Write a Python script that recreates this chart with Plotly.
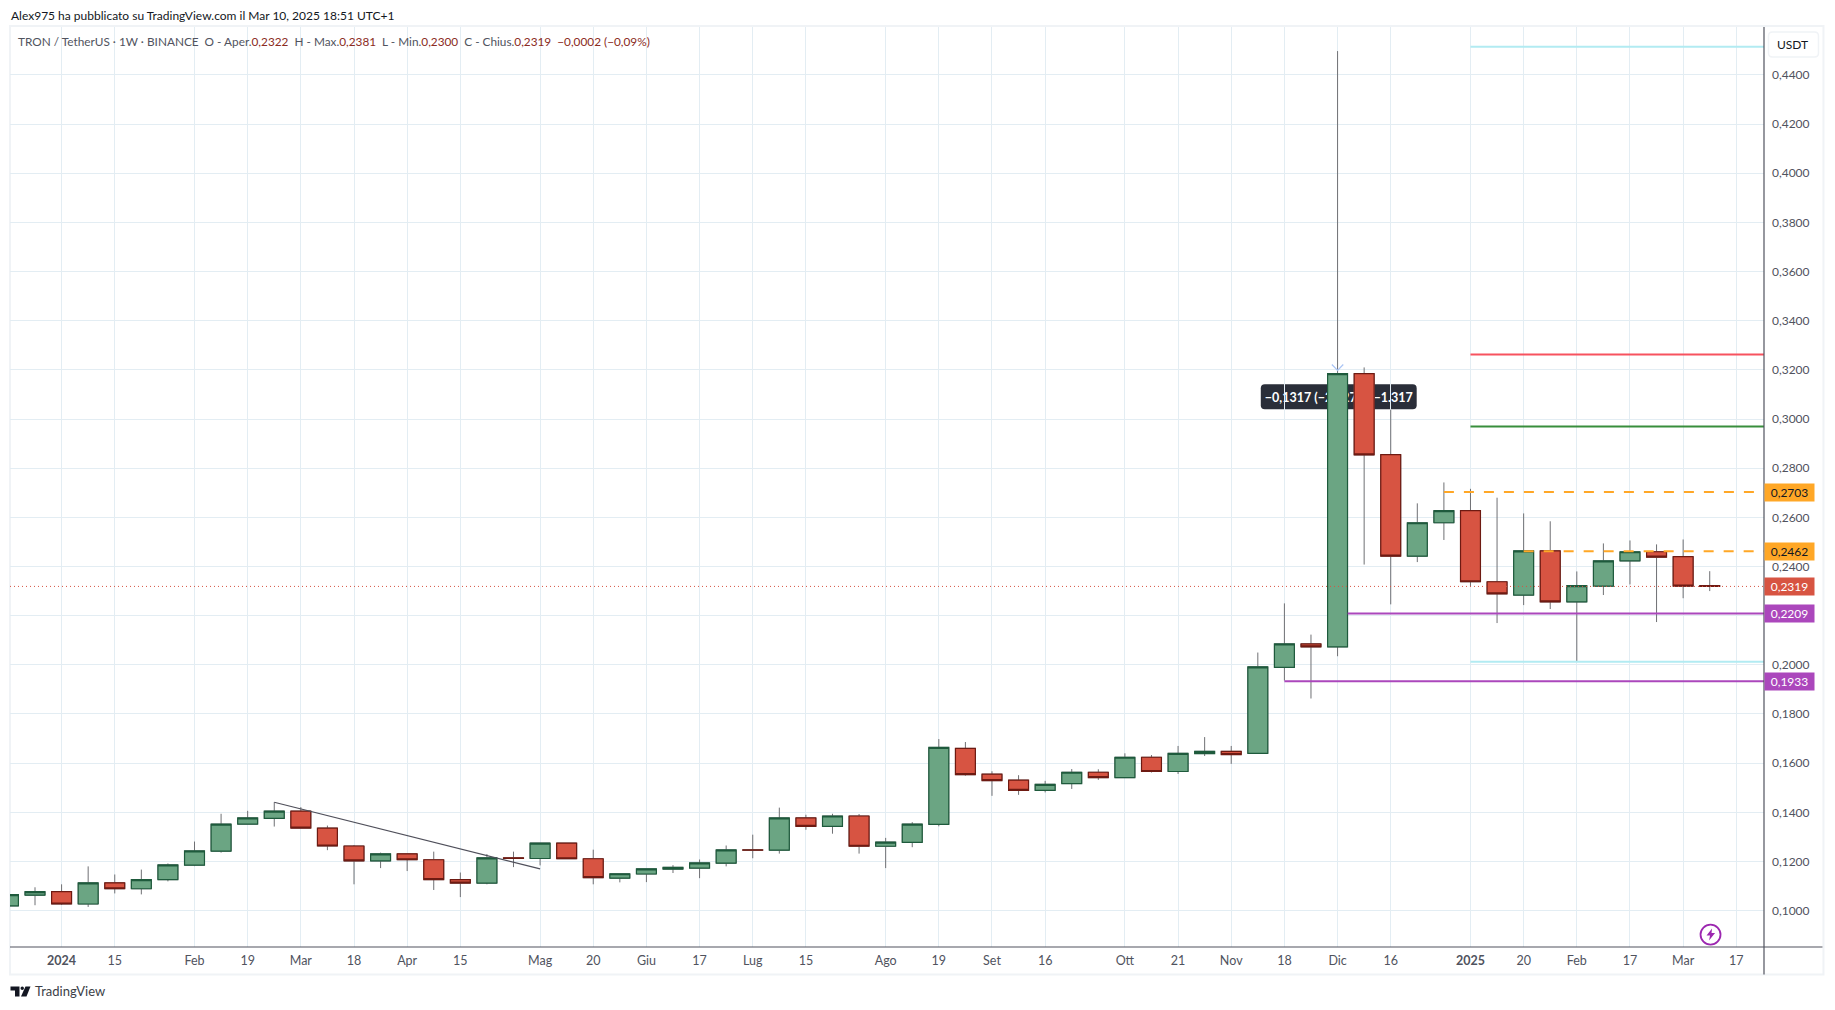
import pandas as pd
import plotly.graph_objects as go

# ---------- data ----------
week_start = "2023-12-18"
opens = [.1019,.1063,.1077,.1027,.1113,.1089,.1126,.1185,.1242,.1352,.1375,.1405,.1336,.1263,.1202,.1231,.1207,.1126,.1112,.1215,.1212,.1275,.1211,
         .1132,.1149,.1169,.1173,.1193,.1247,.1246,.1377,.1343,.1385,.1262,.1278,.1351,.1660,.1555,.1531,.1489,.1517,.1563,.1541,.1624,.1566,.1639,.1648]
opens_b = [.1640,.1990,.2085,.2073,.3185,.2855,.2442,.2578,.2627,.2338,.2284,.2464,.2256,.2320,.2423,.2460,.2440,.2322]
highs = [.1065,.1095,.1107,.1180,.1147,.1167,.1192,.1281,.1394,.1406,.1441,.1421,.1346,.1267,.1236,.1231,.1240,.1155,.1230,.1240,.1275,.1275,.1248,
         .1150,.1170,.1185,.1208,.1265,.1309,.1419,.1390,.1394,.1393,.1296,.1360,.1698,.1686,.1567,.1551,.1528,.1576,.1575,.1640,.1633,.1670,.1706,.1670]
highs_b = [.2050,.2250,.2123,.4497,.3210,.3038,.2657,.2742,.2716,.2680,.2616,.2584,.2380,.2494,.2506,.2490,.2510,.2381]
lows = [.1019,.1022,.1023,.1015,.1070,.1066,.1119,.1181,.1236,.1352,.1342,.1336,.1246,.1107,.1173,.1161,.1084,.1055,.1107,.1177,.1184,.1211,.1107,
        .1115,.1116,.1153,.1132,.1180,.1213,.1232,.1329,.1313,.1232,.1173,.1258,.1343,.1549,.1467,.1471,.1481,.1495,.1532,.1541,.1562,.1556,.1629,.1597]
lows_b = [.1640,.1936,.1863,.2035,.2408,.2246,.2418,.2508,.2318,.2170,.2243,.2227,.2015,.2284,.2327,.2174,.2271,.2300]
closes = [.1065,.1077,.1027,.1113,.1089,.1126,.1186,.1243,.1352,.1377,.1405,.1336,.1263,.1202,.1231,.1207,.1126,.1112,.1215,.1212,.1275,.1211,.1134,
          .1150,.1170,.1176,.1194,.1247,.1246,.1377,.1343,.1385,.1262,.1279,.1352,.1664,.1553,.1529,.1489,.1514,.1563,.1541,.1624,.1566,.1640,.1648,.1635]
closes_b = [.1992,.2085,.2073,.3185,.2854,.2442,.2578,.2627,.2338,.2289,.2464,.2256,.2322,.2423,.2460,.2438,.2320,.2319]

tick_dates = ["2024-01-01","2024-01-15","2024-02-05","2024-02-19","2024-03-04","2024-03-18","2024-04-01","2024-04-15","2024-05-06","2024-05-20",
              "2024-06-03","2024-06-17","2024-07-01","2024-07-15","2024-08-05","2024-08-19","2024-09-02","2024-09-16","2024-10-07","2024-10-21",
              "2024-11-04","2024-11-18","2024-12-02","2024-12-16","2025-01-06","2025-01-20","2025-02-03","2025-02-17","2025-03-03","2025-03-17"]
tick_labels = ["<b>2024</b>","15","Feb","19","Mar","18","Apr","15","Mag","20","Giu","17","Lug","15","Ago","19","Set","16","Ott","21",
               "Nov","18","Dic","16","<b>2025</b>","20","Feb","17","Mar","17"]

# horizontal levels: value, start date, colour, dash
level_values = [.4515,.3263,.2970,.2703,.2462,.2209,.2013,.1933]
level_starts = ["2025-01-06","2025-01-06","2025-01-06","2024-12-30","2025-01-20","2024-12-04 16:00","2025-01-06","2024-11-18"]
level_colors = ["#b2ebf2","#f7525f","#388e3c","#ffa726","#ffa726","#ab47bc","#b2ebf2","#ab47bc"]
level_dashes = ["solid","solid","solid","10px,10px","10px,10px","solid","solid","solid"]
last_price = .2319
trend_dates = ["2024-02-26","2024-05-06"]
trend_values = [.1441,.1170]
price_tags = [(.2703,"#ffa726","#131722"),(.2462,"#ffa726","#131722"),(.2319,"#d75442","#ffffff"),(.2209,"#ab47bc","#ffffff"),(.1933,"#ab47bc","#ffffff")]

# ---------- geometry (page px; page body has an 8 px margin) ----------
OFF = 8
W, H = 1819, 994
PL, PR, PT, PB = 9.5, 1764.5, 27, 947.4
ml, mr, mt, mb = PL-OFF, W-(PR-OFF), PT-OFF, H-(PB-OFF)
def fx(x): return (x-PL)/(PR-PL)
def fy(y): return (PB-y)/(PB-PT)
X_RANGE = ["2023-12-18 10:00","2025-03-24 07:00"]
Y_RANGE = [.0852,.4595]

dates = pd.date_range(week_start, periods=len(opens)+len(opens_b), freq="7D")
o = opens+opens_b; h = highs+highs_b; l = lows+lows_b; c = closes+closes_b
top = [max(a,b) for a,b in zip(o,c)]
bot = [min(a,b) for a,b in zip(o,c)]

G_FILL, G_LINE, R_FILL, R_LINE = "#6ba583","#1e5a3c","#d75442","#6e1a12"
WICK = "#6f7074"
FONT = "Lato"
TXT = "#50535e"

fig = go.Figure()
# wicks
fig.add_trace(go.Candlestick(x=dates, open=o, high=h, low=l, close=c, whiskerwidth=0,
    increasing=dict(line=dict(color=WICK,width=1),fillcolor=G_FILL),
    decreasing=dict(line=dict(color=WICK,width=1),fillcolor=R_FILL), hoverinfo="skip"))
# bodies
fig.add_trace(go.Candlestick(x=dates, open=o, high=top, low=bot, close=c, whiskerwidth=0,
    increasing=dict(line=dict(color=G_LINE,width=1.2),fillcolor=G_FILL),
    decreasing=dict(line=dict(color=R_LINE,width=1.2),fillcolor=R_FILL), hoverinfo="skip"))

# price line
fig.add_trace(go.Scatter(x=X_RANGE,y=[last_price,last_price],mode="lines",line=dict(color="#d75442",width=1,dash="1px,3px"),hoverinfo="skip"))
# levels
for v,s,col,d in zip(level_values,level_starts,level_colors,level_dashes):
    fig.add_trace(go.Scatter(x=[s,X_RANGE[1]],y=[v,v],mode="lines",line=dict(color=col,width=2,dash=d),hoverinfo="skip"))
# trend line
fig.add_trace(go.Scatter(x=trend_dates,y=trend_values,mode="lines",line=dict(color="#4f4f5a",width=1.2),hoverinfo="skip"))
# arrow tip of the measuring tool
fig.add_trace(go.Scatter(x=["2024-11-30 12:00","2024-12-02","2024-12-03 12:00"],y=[.3222,.3198,.3222],mode="lines",line=dict(color="#a9c4f5",width=1.2),hoverinfo="skip"))

def rrect(x0,y0,x1,y1,r):
    X0,X1=fx(x0),fx(x1); Y0,Y1=fy(y0),fy(y1); rx=r/(PR-PL); ry=r/(PB-PT)
    return (f"M {X0+rx} {Y0} L {X1-rx} {Y0} Q {X1} {Y0} {X1} {Y0-ry} L {X1} {Y1+ry} Q {X1} {Y1} {X1-rx} {Y1} "
            f"L {X0+rx} {Y1} Q {X0} {Y1} {X0} {Y1+ry} L {X0} {Y0-ry} Q {X0} {Y0} {X0+rx} {Y0} Z")

shapes = [
    # outer frame
    dict(type="rect",xref="paper",yref="paper",x0=fx(9.5),x1=fx(1824),y0=fy(26),y1=fy(975),line=dict(color="#f0f3f6",width=2),layer="below"),
    # axis lines
    dict(type="line",xref="paper",yref="paper",x0=0,x1=fx(1823),y0=0,y1=0,line=dict(color=TXT,width=1.2)),
    dict(type="line",xref="paper",yref="paper",x0=1,x1=1,y0=fy(975),y1=1,line=dict(color=TXT,width=1.2)),
    # measuring tool tooltip
    dict(type="path",xref="paper",yref="paper",path=rrect(1261,384.5,1417,409.5,4),fillcolor="#2a2e39",line=dict(width=0),layer="below",
         label=dict(text="<b>\u22120,1317 (\u221229,27%) \u22121.317</b>",font=dict(family=FONT,size=12.5,color="#ffffff"),textposition="middle center")),
    # USDT button
    dict(type="path",xref="paper",yref="paper",path=rrect(1769,32,1819,57,4),fillcolor="#ffffff",line=dict(color="#f0f3f6",width=1.5)),
    # lightning icon
    dict(type="circle",xref="paper",yref="paper",x0=fx(1701),x1=fx(1721),y0=fy(925),y1=fy(945),line=dict(color="#9c27b0",width=1.8),fillcolor="#ffffff"),
    dict(type="path",xref="paper",yref="paper",path=f"M {fx(1712.5)} {fy(929)} L {fx(1707)} {fy(936)} L {fx(1710.5)} {fy(936)} L {fx(1709.5)} {fy(941)} L {fx(1715.5)} {fy(933.5)} L {fx(1712)} {fy(933.5)} Z",fillcolor="#9c27b0",line=dict(width=0)),
    # TradingView logo
    dict(type="path",xref="paper",yref="paper",path=f"M {fx(10)} {fy(987)} L {fx(19)} {fy(987)} L {fx(19)} {fy(997)} L {fx(14.5)} {fy(997)} L {fx(14.5)} {fy(991)} L {fx(10)} {fy(991)} Z",fillcolor="#131722",line=dict(width=0)),
    dict(type="circle",xref="paper",yref="paper",x0=fx(20),x1=fx(23.5),y0=fy(987),y1=fy(990.5),fillcolor="#131722",line=dict(width=0)),
    dict(type="path",xref="paper",yref="paper",path=f"M {fx(25)} {fy(987)} L {fx(30)} {fy(987)} L {fx(26)} {fy(997)} L {fx(20.5)} {fy(997)} Z",fillcolor="#131722",line=dict(width=0)),
]

RED_T, GR_T = "#8b2b22", "#50535e"
def sp(t,col): return f'<span style="color:{col}">{t}</span>'
legend = (sp("TRON / TetherUS \u00b7 1W \u00b7 BINANCE &nbsp;O - Aper.",GR_T)+sp("0,2322",RED_T)+sp(" &nbsp;H - Max.",GR_T)+sp("0,2381",RED_T)
          +sp(" &nbsp;L - Min.",GR_T)+sp("0,2300",RED_T)+sp(" &nbsp;C - Chius.",GR_T)+sp("0,2319 &nbsp;\u22120,0002 (\u22120,09%)",RED_T))
ann = [
    dict(xref="paper",yref="paper",x=fx(8),y=fy(15),xanchor="left",yanchor="middle",showarrow=False,align="left",
         text="Alex975 ha pubblicato su TradingView.com il Mar 10, 2025 18:51 UTC+1",font=dict(family=FONT,size=12,color="#131722")),
    dict(xref="paper",yref="paper",x=fx(16),y=fy(41.5),xanchor="left",yanchor="middle",showarrow=False,align="left",text=legend,font=dict(family=FONT,size=11.8,color=GR_T)),
    dict(xref="paper",yref="paper",x=fx(1793),y=fy(44.5),xanchor="center",yanchor="middle",showarrow=False,text="USDT",font=dict(family=FONT,size=12,color="#131722")),
    dict(xref="paper",yref="paper",x=fx(33),y=fy(991.5),xanchor="left",yanchor="middle",showarrow=False,text="TradingView",font=dict(family=FONT,size=13,color="#3b3e47")),
]
for v,bg,fg in price_tags:
    ann.append(dict(xref="paper",yref="y",x=1,y=v,xanchor="left",yanchor="middle",showarrow=False,width=49,height=17,bgcolor=bg,borderpad=0,
                    align="center",text=f"{v:.4f}".replace(".",","),font=dict(family=FONT,size=12,color=fg)))

fig.update_layout(
    width=W,height=H,margin=dict(l=ml,r=mr,t=mt,b=mb),paper_bgcolor="#ffffff",plot_bgcolor="#ffffff",showlegend=False,
    separators=",.",font=dict(family=FONT,color=TXT,size=12),boxgap=0.25,boxgroupgap=0,shapes=shapes,annotations=ann,
    xaxis=dict(type="date",range=X_RANGE,rangeslider=dict(visible=False),tickmode="array",tickvals=tick_dates,ticktext=tick_labels,
               showgrid=True,gridcolor="#e3edf3",gridwidth=1,zeroline=False,ticks="",tickfont=dict(family=FONT,size=12.5,color=TXT),ticklabelstandoff=4,showline=False),
    yaxis=dict(range=Y_RANGE,side="right",tick0=.1,dtick=.02,tickformat=".4f",showgrid=True,gridcolor="#e3edf3",gridwidth=1,zeroline=False,ticks="",
               tickfont=dict(family=FONT,size=12,color=TXT),ticklabelstandoff=7,showline=False),
)
fig.write_html("out.html")
